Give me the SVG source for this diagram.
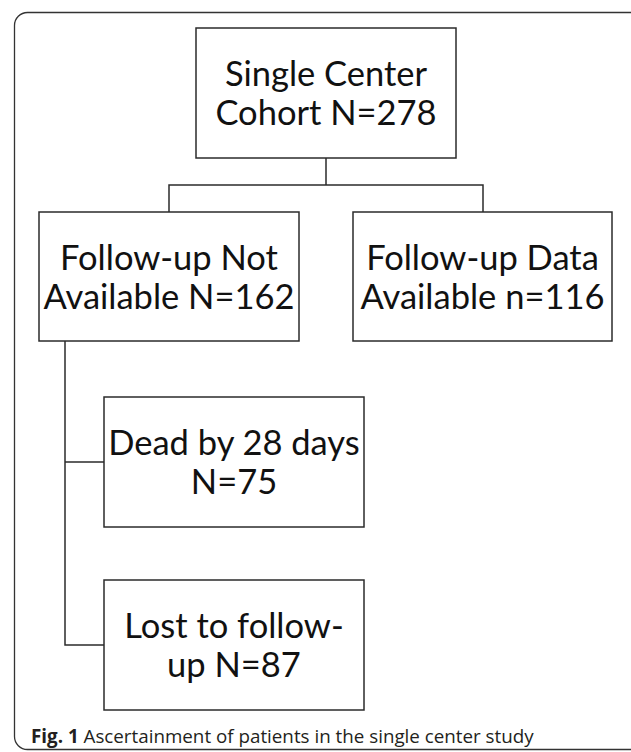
<svg xmlns="http://www.w3.org/2000/svg" width="631" height="752" viewBox="0 0 631 752">
<style>
.box{fill:#fff;stroke:#2b2b2b;stroke-width:1.5}
.t{font-family:Lato,"Open Sans",sans-serif;font-size:34.5px;fill:#111;text-anchor:middle}
.conn{fill:none;stroke:#2b2b2b;stroke-width:1.5}
.cap{font-family:"Open Sans","Liberation Sans",sans-serif;font-size:18.8px;fill:#231f20}
</style>
<rect x="14.5" y="12.5" width="640" height="737" rx="13" fill="#fff" stroke="#333" stroke-width="1.3"/>
<g id="connectors">
<path class="conn" d="M326 158 V185 M169 212 V185 H483 V212"/>
<path class="conn" d="M65 341 V645 H104 M65 462 H104"/>
</g>
<g id="n-cohort">
<rect class="box" x="196" y="28" width="260" height="130"/>
<text class="t" x="326" y="86">Single Center</text>
<text class="t" x="326" y="125">Cohort N=278</text>
</g>
<g id="n-notavail">
<rect class="box" x="39" y="212" width="260" height="129"/>
<text class="t" x="169" y="270">Follow-up Not</text>
<text class="t" x="169" y="309">Available N=162</text>
</g>
<g id="n-avail">
<rect class="box" x="353" y="212" width="259" height="129"/>
<text class="t" x="482.5" y="270">Follow-up Data</text>
<text class="t" x="482.5" y="309">Available n=116</text>
</g>
<g id="n-dead">
<rect class="box" x="104" y="397" width="260" height="130"/>
<text class="t" x="234" y="455">Dead by 28 days</text>
<text class="t" x="234" y="494">N=75</text>
</g>
<g id="n-lost">
<rect class="box" x="104" y="580" width="260" height="130"/>
<text class="t" x="234" y="638">Lost to follow-</text>
<text class="t" x="234" y="677">up N=87</text>
</g>
<text class="cap" x="31" y="743"><tspan font-weight="bold">Fig. 1</tspan> Ascertainment of patients in the single center study</text>
</svg>
